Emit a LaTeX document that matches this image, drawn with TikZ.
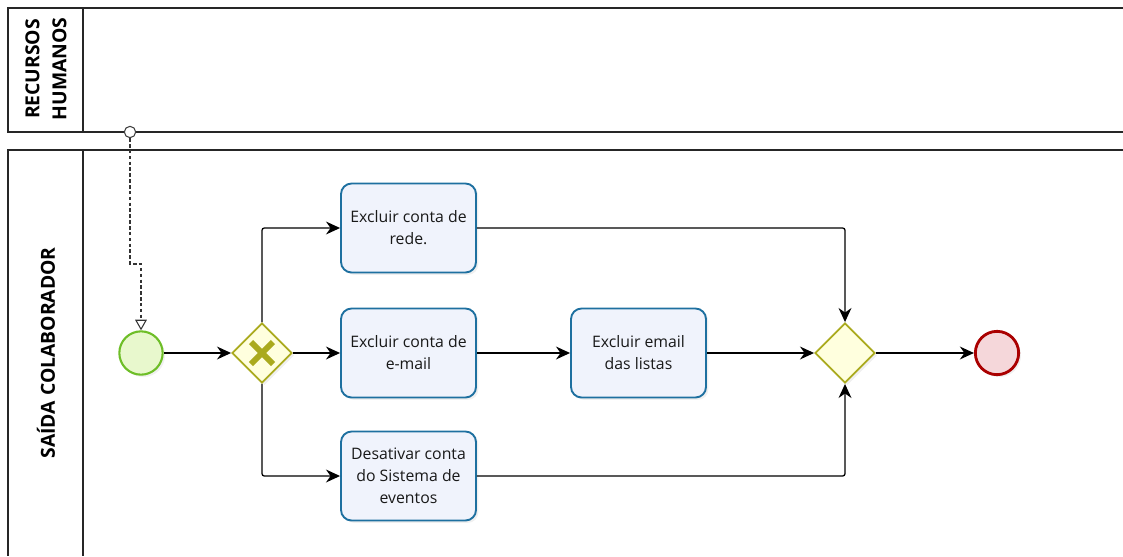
\documentclass[tikz,border=0pt]{standalone}
\usepackage{fontspec}
\setmainfont{Open Sans}
\usetikzlibrary{positioning}
\usetikzlibrary{arrows.meta}
\usetikzlibrary{shapes.geometric}
\usetikzlibrary{shadows}
\definecolor{taskline}{RGB}{30,112,160}
\definecolor{taskfill}{RGB}{240,243,252}
\definecolor{gateline}{RGB}{170,170,30}
\definecolor{gatefill}{RGB}{255,255,222}
\definecolor{startline}{RGB}{110,190,40}
\definecolor{startfill}{RGB}{232,248,205}
\definecolor{endline}{RGB}{170,0,0}
\definecolor{endfill}{RGB}{245,215,218}

\begin{document}
\begin{tikzpicture}[
    x=0.03cm, y=-0.03cm,
    lane/.style={draw=black!85, line width=1.2pt},
    lanetitle/.style={rotate=90, font=\fontsize{16.5}{23}\selectfont\bfseries, align=center, text=black},
    task/.style={rectangle, rounded corners=9pt, draw=taskline, fill=taskfill, line width=1.6pt,
                 minimum width=4.05cm, minimum height=2.67cm, align=center,
                 font=\fontsize{13.5}{18.8}\selectfont, text=black!90,
                 drop shadow={opacity=0.12, shadow xshift=2pt, shadow yshift=-2pt}},
    gateway/.style={diamond, aspect=1, draw=gateline, fill=gatefill, line width=1.6pt,
                    minimum size=1.8cm, inner sep=0pt,
                    drop shadow={opacity=0.12, shadow xshift=2pt, shadow yshift=-2pt}},
    startevt/.style={circle, draw=startline, fill=startfill, line width=1.8pt, minimum size=1.3cm,
                     drop shadow={opacity=0.12, shadow xshift=2pt, shadow yshift=-2pt}},
    endevt/.style={circle, draw=endline, fill=endfill, line width=2.4pt, minimum size=1.3cm,
                   drop shadow={opacity=0.12, shadow xshift=2pt, shadow yshift=-2pt}},
    flow/.style={-{Stealth[length=12pt, width=11pt]}, line width=1.1pt, rounded corners=2pt},
    msgflow/.style={-{Triangle[open, length=9pt, width=10pt]}, dash pattern=on 3pt off 2pt, line width=0.9pt, black!80},
    msgsrc/.style={circle, draw=black!75, fill=white, line width=0.9pt, minimum size=0.34cm, inner sep=0pt},
    ]
    \useasboundingbox (0,0) rectangle (1123,556);

    % lanes
    \draw[lane] (1123,8) -- (8,8) -- (8,132) -- (1123,132);
    \draw[lane] (83,8) -- (83,132);
    \draw[lane] (1123,150) -- (8,150) -- (8,556);
    \draw[lane] (83,150) -- (83,556);
    \node[lanetitle] (lane1) at (46,69) {RECURSOS\\HUMANOS};
    \node[lanetitle] (lane2) at (46,353) {SAÍDA COLABORADOR};

    % events and gateways
    \node[startevt] (start) at (141,353) {};
    \node[gateway] (split) at (262,353) {};
    \draw[gateline, line width=5pt] (251,342) -- (273,364);
    \draw[gateline, line width=5pt] (251,364) -- (273,342);
    \node[gateway] (join) at (845,353) {};
    \node[endevt] (stop) at (997,353) {};

    % tasks
    \node[task] (t1) at (408.5,228) {Excluir conta de\\rede.};
    \node[task] (t2) at (408.5,353) {Excluir conta de\\e-mail};
    \node[task] (t3) at (638.5,353) {Excluir email\\das listas};
    \node[task] (t4) at (408.5,476) {Desativar conta\\do Sistema de\\eventos};

    % message flow
    \node[msgsrc] (msg) at (130,132) {};
    \coordinate (mbend) at (130,264);
    \draw[msgflow] (msg.south) -- (mbend) -| (start.north);

    % sequence flows
    \draw[flow] (start.east) -- (split.west);
    \draw[flow] (split.north) |- (t1.west);
    \draw[flow] (split.east) -- (t2.west);
    \draw[flow] (split.south) |- (t4.west);
    \draw[flow] (t2.east) -- (t3.west);
    \draw[flow] (t1.east) -| (join.north);
    \draw[flow] (t3.east) -- (join.west);
    \draw[flow] (t4.east) -| (join.south);
    \draw[flow] (join.east) -- (stop.west);
\end{tikzpicture}
\end{document}
